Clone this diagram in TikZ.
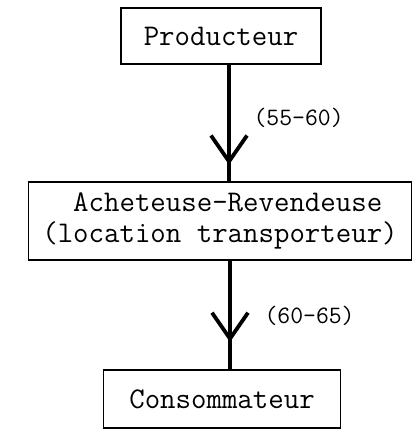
\documentclass[tikz,border=0pt]{standalone}
\usepackage{fontspec}
\usepackage{tikz}
\usetikzlibrary{arrows.meta, positioning, decorations.markings}

\tikzset{
  actor/.style={draw, line width=1.8pt, inner sep=0pt, align=center,
    font=\ttfamily\fontsize{30}{31}\selectfont},
  price/.style={font=\ttfamily\fontsize{25}{28}\selectfont, anchor=west},
  flow/.style={line width=3.6pt, postaction={decorate}},
}

\begin{document}
\begin{tikzpicture}[x=1pt, y=1pt]
  \useasboundingbox (0,0) rectangle (412,-430);

  \node[actor, minimum width=200pt, minimum height=56pt] (prod) at (221,-36) {Producteur};
  \node[actor, minimum width=383pt, minimum height=78pt] (ach) at (220,-221)
    {\ Acheteuse-Revendeuse\\(location transporteur)};
  \node[actor, minimum width=237pt, minimum height=58pt] (cons) at (222,-399) {Consommateur};

  % prix aux deux etapes
  \draw[flow, decoration={markings, mark=at position 0.86 with {\arrow{Straight Barb[length=26pt, width=36pt, line width=3.8pt]}}}]
    ([xshift=8pt]prod.south) -- ([xshift=8pt]prod.south |- ach.north);
  \draw[flow, decoration={markings, mark=at position 0.75 with {\arrow{Straight Barb[length=26pt, width=36pt, line width=3.8pt]}}}]
    ([xshift=10pt]ach.south) -- ([xshift=10pt]ach.south |- cons.north);

  \node[price] (p1) at (250,-118) {(55-60)};
  \node[price] (p2) at (261,-316) {(60-65)};
\end{tikzpicture}
\end{document}
